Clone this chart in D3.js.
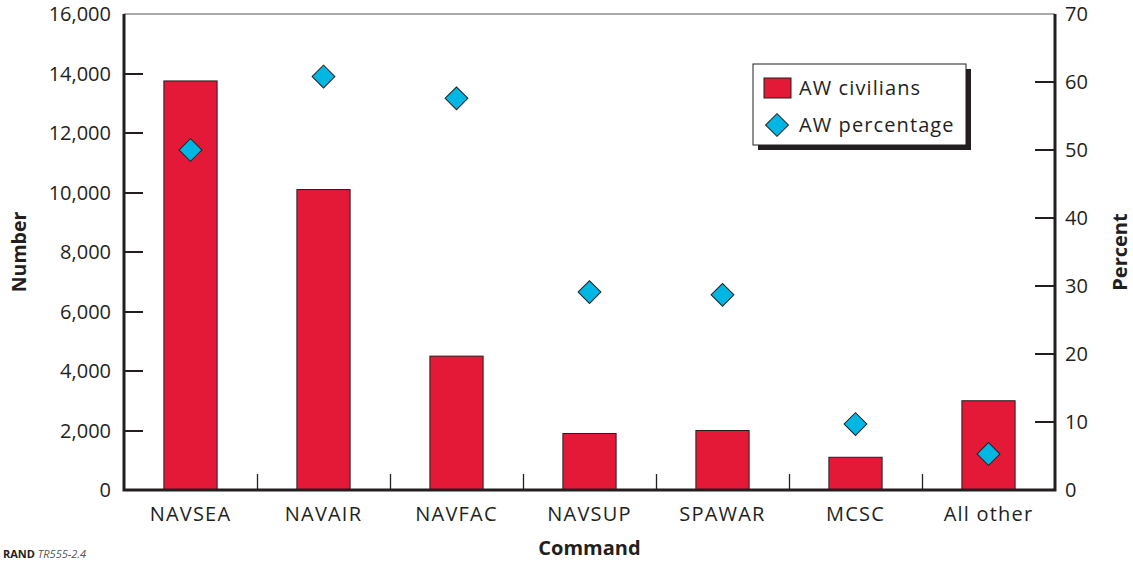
<!DOCTYPE html>
<html>
<head>
<meta charset="utf-8">
<script src="https://cdn.jsdelivr.net/npm/d3@7"></script>
<style>
body { margin: 0; background: #fff; }
text { font-family: "Open Sans", "Noto Sans", sans-serif; fill: #231f20; }
</style>
</head>
<body>
<div class="chart"></div>
<script>
var commands = ["NAVSEA", "NAVAIR", "NAVFAC", "NAVSUP", "SPAWAR", "MCSC", "All other"];
var civilians = [13750, 10100, 4500, 1900, 2000, 1100, 3000];
var percentage = [50, 60.8, 57.6, 29.1, 28.7, 9.7, 5.3];
var leftTicks = [0, 2000, 4000, 6000, 8000, 10000, 12000, 14000, 16000];
var rightTicks = [0, 10, 20, 30, 40, 50, 60, 70];

var plotL = 124, plotR = 1055, plotT = 14, plotB = 490;

var svg = d3.select(".chart")
    .append("svg")
    .attr("width", 1133)
    .attr("height", 562)

var x = d3.scaleBand().domain(commands).range([plotL, plotR]).paddingInner(0.6).paddingOuter(0.3);
var xb = d3.scaleBand().domain(commands).range([plotL, plotR]);
var y = d3.scaleLinear().domain([0, 16000]).range([plotB, plotT]);
var y2 = d3.scaleLinear().domain([0, 70]).range([plotB, plotT]);

// top frame line
svg.append("line")
    .attr("x1", plotL).attr("x2", plotR)
    .attr("y1", plotT).attr("y2", plotT)
    .attr("stroke", "#555").attr("stroke-width", 1)

// bars
svg.selectAll("rect.bar")
    .data(civilians)
    .enter()
    .append("rect")
    .attr("class", "bar")
    .attr("x", function (d, i) { return x(commands[i]); })
    .attr("width", x.bandwidth())
    .attr("y", function (d) { return y(d); })
    .attr("height", function (d) { return plotB - y(d); })
    .attr("fill", "#e31937")
    .attr("stroke", "#231f20")
    .attr("stroke-width", 1)

// inner tick marks, left and right (drawn as thin rects)
svg.selectAll("rect.lt")
    .data(leftTicks.slice(1, -1))
    .enter()
    .append("rect")
    .attr("class", "lt")
    .attr("x", plotL).attr("width", 19)
    .attr("y", function (d) { return Math.round(y(d)) - 1; })
    .attr("height", 2)
    .attr("fill", "#231f20")

svg.selectAll("rect.rt")
    .data(rightTicks.slice(1, -1))
    .enter()
    .append("rect")
    .attr("class", "rt")
    .attr("x", plotR - 20).attr("width", 20)
    .attr("y", function (d) { return Math.round(y2(d)) - 1; })
    .attr("height", 2)
    .attr("fill", "#231f20")

svg.selectAll("text.yl")
    .data(leftTicks)
    .enter()
    .append("text")
    .attr("class", "yl")
    .attr("x", plotL - 13)
    .attr("y", function (d) { return y(d); })
    .attr("dy", "0.35em")
    .attr("text-anchor", "end")
    .style("font-size", "20px")
    .text(d3.format(","))

svg.selectAll("text.yr")
    .data(rightTicks)
    .enter()
    .append("text")
    .attr("class", "yr")
    .attr("x", plotR + 10)
    .attr("y", function (d) { return y2(d); })
    .attr("dy", "0.35em")
    .style("font-size", "20px")
    .text(function (d) { return d; })

// category separators
svg.selectAll("line.sep")
    .data(commands.slice(1))
    .enter()
    .append("line")
    .attr("class", "sep")
    .attr("x1", function (d) { return Math.round(xb(d)) + 0.5; })
    .attr("x2", function (d) { return Math.round(xb(d)) + 0.5; })
    .attr("y1", plotB)
    .attr("y2", plotB - 16)
    .attr("stroke", "#231f20").attr("stroke-width", 1.3)

svg.selectAll("text.xl")
    .data(commands)
    .enter()
    .append("text")
    .attr("class", "xl")
    .attr("x", function (d) { return xb(d) + xb.bandwidth() / 2; })
    .attr("y", plotB + 31)
    .attr("text-anchor", "middle")
    .style("font-size", "20px")
    .style("letter-spacing", "1.2px")
    .text(function (d) { return d; })

// thick axis lines
svg.append("path")
    .attr("d", "M" + plotL + "," + plotT + "V" + plotB + "H" + plotR + "V" + plotT)
    .attr("fill", "none")
    .attr("stroke", "#231f20")
    .attr("stroke-width", 3)

// diamonds
var diamond = d3.symbol().type(d3.symbolSquare).size(260);
svg.selectAll("path.pt")
    .data(percentage)
    .enter()
    .append("path")
    .attr("class", "pt")
    .attr("d", diamond)
    .attr("transform", function (d, i) {
        return "translate(" + (xb(commands[i]) + xb.bandwidth() / 2) + "," + y2(d) + ") rotate(45)";
    })
    .attr("fill", "#00b6e3")
    .attr("stroke", "#231f20")
    .attr("stroke-width", 1)

// axis titles
svg.append("text")
    .attr("transform", "translate(26," + ((plotT + plotB) / 2) + ") rotate(-90)")
    .attr("text-anchor", "middle")
    .style("font-size", "19.5px")
    .style("font-weight", "bold")
    .text("Number")

svg.append("text")
    .attr("transform", "translate(1127," + ((plotT + plotB) / 2) + ") rotate(-90)")
    .attr("text-anchor", "middle")
    .style("font-size", "20px")
    .style("font-weight", "bold")
    .text("Percent")

svg.append("text")
    .attr("x", (plotL + plotR) / 2)
    .attr("y", 555)
    .attr("text-anchor", "middle")
    .style("font-size", "20px")
    .style("font-weight", "bold")
    .text("Command")

var rand = svg.append("text")
    .attr("x", 3)
    .attr("y", 558)
    .style("font-size", "11px")
rand.append("tspan").style("font-weight", "bold").text("RAND ")
rand.append("tspan").style("font-style", "italic").style("fill", "#555").text("TR555-2.4")

// legend
var lg = svg.append("g").attr("transform", "translate(753,64)")
lg.append("rect")
    .attr("x", 5).attr("y", 5).attr("width", 213).attr("height", 81)
    .attr("fill", "#231f20")
lg.append("rect")
    .attr("width", 213).attr("height", 81)
    .attr("fill", "#fff").attr("stroke", "#231f20").attr("stroke-width", 1)
lg.append("rect")
    .attr("x", 11).attr("y", 14).attr("width", 27).attr("height", 20)
    .attr("fill", "#e31937").attr("stroke", "#231f20")
lg.append("text")
    .attr("x", 46).attr("y", 24).attr("dy", "0.35em")
    .style("font-size", "20px")
    .style("letter-spacing", "1.1px")
    .text("AW civilians")
lg.append("path")
    .attr("d", diamond)
    .attr("transform", "translate(24,61) rotate(45)")
    .attr("fill", "#00b6e3").attr("stroke", "#231f20")
lg.append("text")
    .attr("x", 46).attr("y", 61).attr("dy", "0.35em")
    .style("font-size", "20px")
    .style("letter-spacing", "1.1px")
    .text("AW percentage")
</script>
</body>
</html>
